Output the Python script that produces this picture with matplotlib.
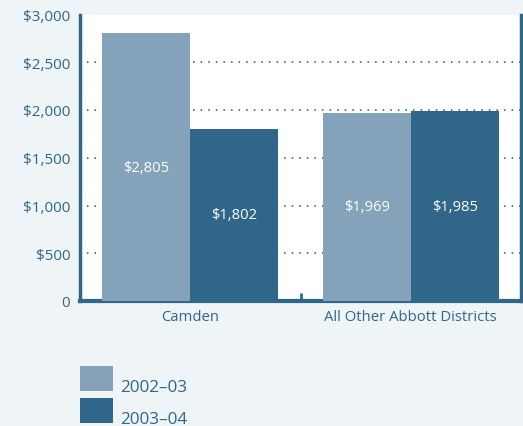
import matplotlib
matplotlib.use("Agg")
import matplotlib.pyplot as plt
from matplotlib.patches import Rectangle

categories = ["Camden", "All Other Abbott Districts"]
series_names = ["2002\u201303", "2003\u201304"]
values_2002 = [2805, 1969]
values_2003 = [1802, 1985]
value_labels_2002 = ["$2,805", "$1,969"]
value_labels_2003 = ["$1,802", "$1,985"]
yticks = [0, 500, 1000, 1500, 2000, 2500, 3000]
ytick_labels = ["0", "$500", "$1,000", "$1,500", "$2,000", "$2,500", "$3,000"]

light = "#84a3ba"
dark = "#2f6689"
text_c = "#2f6689"
bg = "#eff5f6"

plt.rcParams['font.family'] = ['Open Sans', 'DejaVu Sans']

fig = plt.figure(figsize=(5.23, 4.27), dpi=100, facecolor=bg)
ax = fig.add_axes([80/523, 1 - 302/427, 441/523, (302-15.5)/427])
ax.set_facecolor("white")

w = 0.40
x = list(range(len(categories)))
b1 = ax.bar([i - w/2 for i in x], values_2002, width=w, color=light, zorder=3)
b2 = ax.bar([i + w/2 for i in x], values_2003, width=w, color=dark, zorder=3)

for rect, lab in zip(b1, value_labels_2002):
    ax.text(rect.get_x() + rect.get_width()/2, rect.get_height()/2, lab,
            ha="center", va="center", color="white", fontsize=10.6, zorder=4)
for rect, lab in zip(b2, value_labels_2003):
    ax.text(rect.get_x() + rect.get_width()/2, rect.get_height()/2, lab,
            ha="center", va="center", color="white", fontsize=10.6, zorder=4)

ax.set_xlim(-0.5, 1.5)
ax.set_ylim(0, 3000)
ax.set_yticks(yticks)
ax.set_yticklabels(ytick_labels, color=text_c, fontsize=11)
ax.set_xticks(x)
ax.set_xticklabels(categories, color=text_c, fontsize=10.7)
ax.tick_params(axis="y", length=0, pad=7)
ax.tick_params(axis="x", length=0, pad=6)
ax.set_xticks([0.5], minor=True)
ax.tick_params(axis="x", which="minor", direction="in", length=6, width=2, color=dark)

for yv in yticks[1:-1]:
    ax.axhline(yv, color=dark, linestyle=(0, (0.1, 4.1)), linewidth=1.3,
               dash_capstyle="round", zorder=1)

for s in ["left", "right", "bottom"]:
    ax.spines[s].set_color(dark)
ax.spines["left"].set_linewidth(2.5)
ax.spines["right"].set_linewidth(2.5)
ax.spines["bottom"].set_linewidth(3)
ax.spines["top"].set_visible(False)

# legend
for i, (name, col) in enumerate(zip(series_names, [light, dark])):
    y0 = 1 - (392 + i*32)/427
    fig.patches.append(Rectangle((80/523, y0), 33/523, 25/427, transform=fig.transFigure,
                                 facecolor=col, edgecolor="none"))
    fig.text(120/523, y0, name, color=text_c, fontsize=12.3, ha="left", va="baseline")

fig.savefig("out.png", dpi=100, facecolor=bg)
